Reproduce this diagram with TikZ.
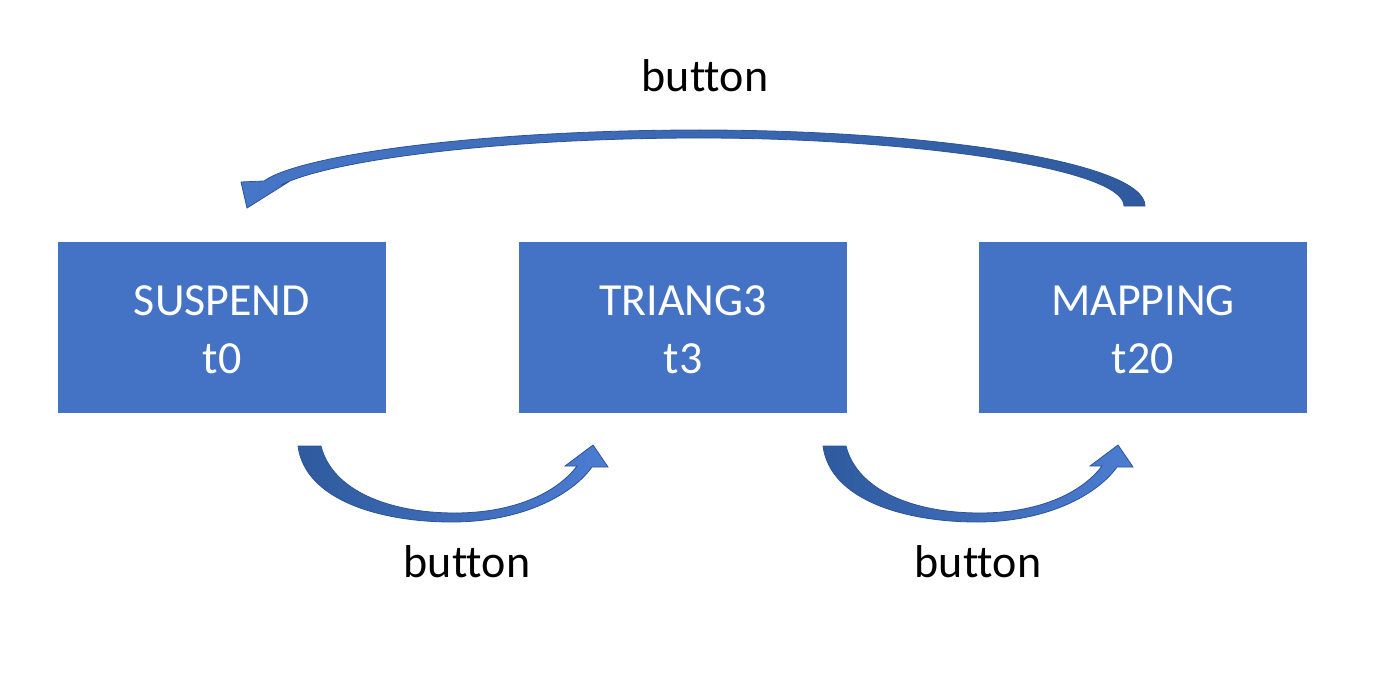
\documentclass[tikz,border=0pt]{standalone}
\usepackage{fontspec}
\setmainfont{Carlito}[Ligatures=NoCommon]
\definecolor{boxblue}{HTML}{4472C4}
\definecolor{arrdark}{HTML}{2F5A9E}
\definecolor{arrlight}{HTML}{4C7DD2}
\definecolor{arredge}{HTML}{2E5496}
\begin{document}
\begin{tikzpicture}[x=1pt,y=-1pt,
  statebox/.style={fill=boxblue,draw=none,minimum width=328pt,minimum height=171pt,inner sep=0pt},
  boxtext/.style={text=white,font=\fontsize{46}{56}\selectfont,anchor=base,inner sep=0pt},
  lbltext/.style={text=black,font=\fontsize{46}{56}\selectfont,anchor=base,inner sep=0pt},
  blockarrow/.style={left color=arrdark,right color=arrlight,draw=arredge,line width=0.8pt,line join=miter}]
\useasboundingbox (0,0) rectangle (1393,674);
\fill[white] (0,0) rectangle (1393,674);

% boxes
\node[statebox] (s0) at (222,327.5) {};
\node[statebox] (s1) at (683,327.5) {};
\node[statebox] (s2) at (1143,327.5) {};

\node[boxtext] (s0a) at (222,315) {SUSPEND};
\node[boxtext] (s0b) at (222,373) {t0};
\node[boxtext] (s1a) at (683,315) {TRIANG3};
\node[boxtext] (s1b) at (683,373) {t3};
\node[boxtext] (s2a) at (1143,315) {MAPPING};
\node[boxtext] (s2b) at (1143,373) {t20};

% lower arrows
\foreach \dx in {0,525}{
\begin{scope}[xshift=\dx]
\path[blockarrow] (298,446) .. controls (305,500) and (380,522) .. (452,522)
  .. controls (522,522) and (572,495) .. (592,467)
  -- (608,467) -- (593,445) -- (565,466) -- (577,466)
  .. controls (556,494) and (512,513) .. (455,513)
  .. controls (388,513) and (332,490) .. (321,446) -- cycle;
\end{scope}}

% top arrow
\path[left color=arrlight!80!arrdark,right color=arrdark,draw=arredge,line width=0.8pt,line join=miter]
  (1145,206) .. controls (1145,162) and (930,130) .. (700,130)
  .. controls (480,130) and (300,155) .. (264,181)
  -- (241,182) -- (247,208) -- (290,181) -- (281,185)
  .. controls (330,160) and (500,138) .. (700,138)
  .. controls (910,138) and (1124,168) .. (1124,206) -- cycle;

% labels
\node[lbltext] (l1) at (705,92) {button};
\node[lbltext] (l2) at (467,577) {button};
\node[lbltext] (l3) at (978,577) {button};
\end{tikzpicture}
\end{document}
